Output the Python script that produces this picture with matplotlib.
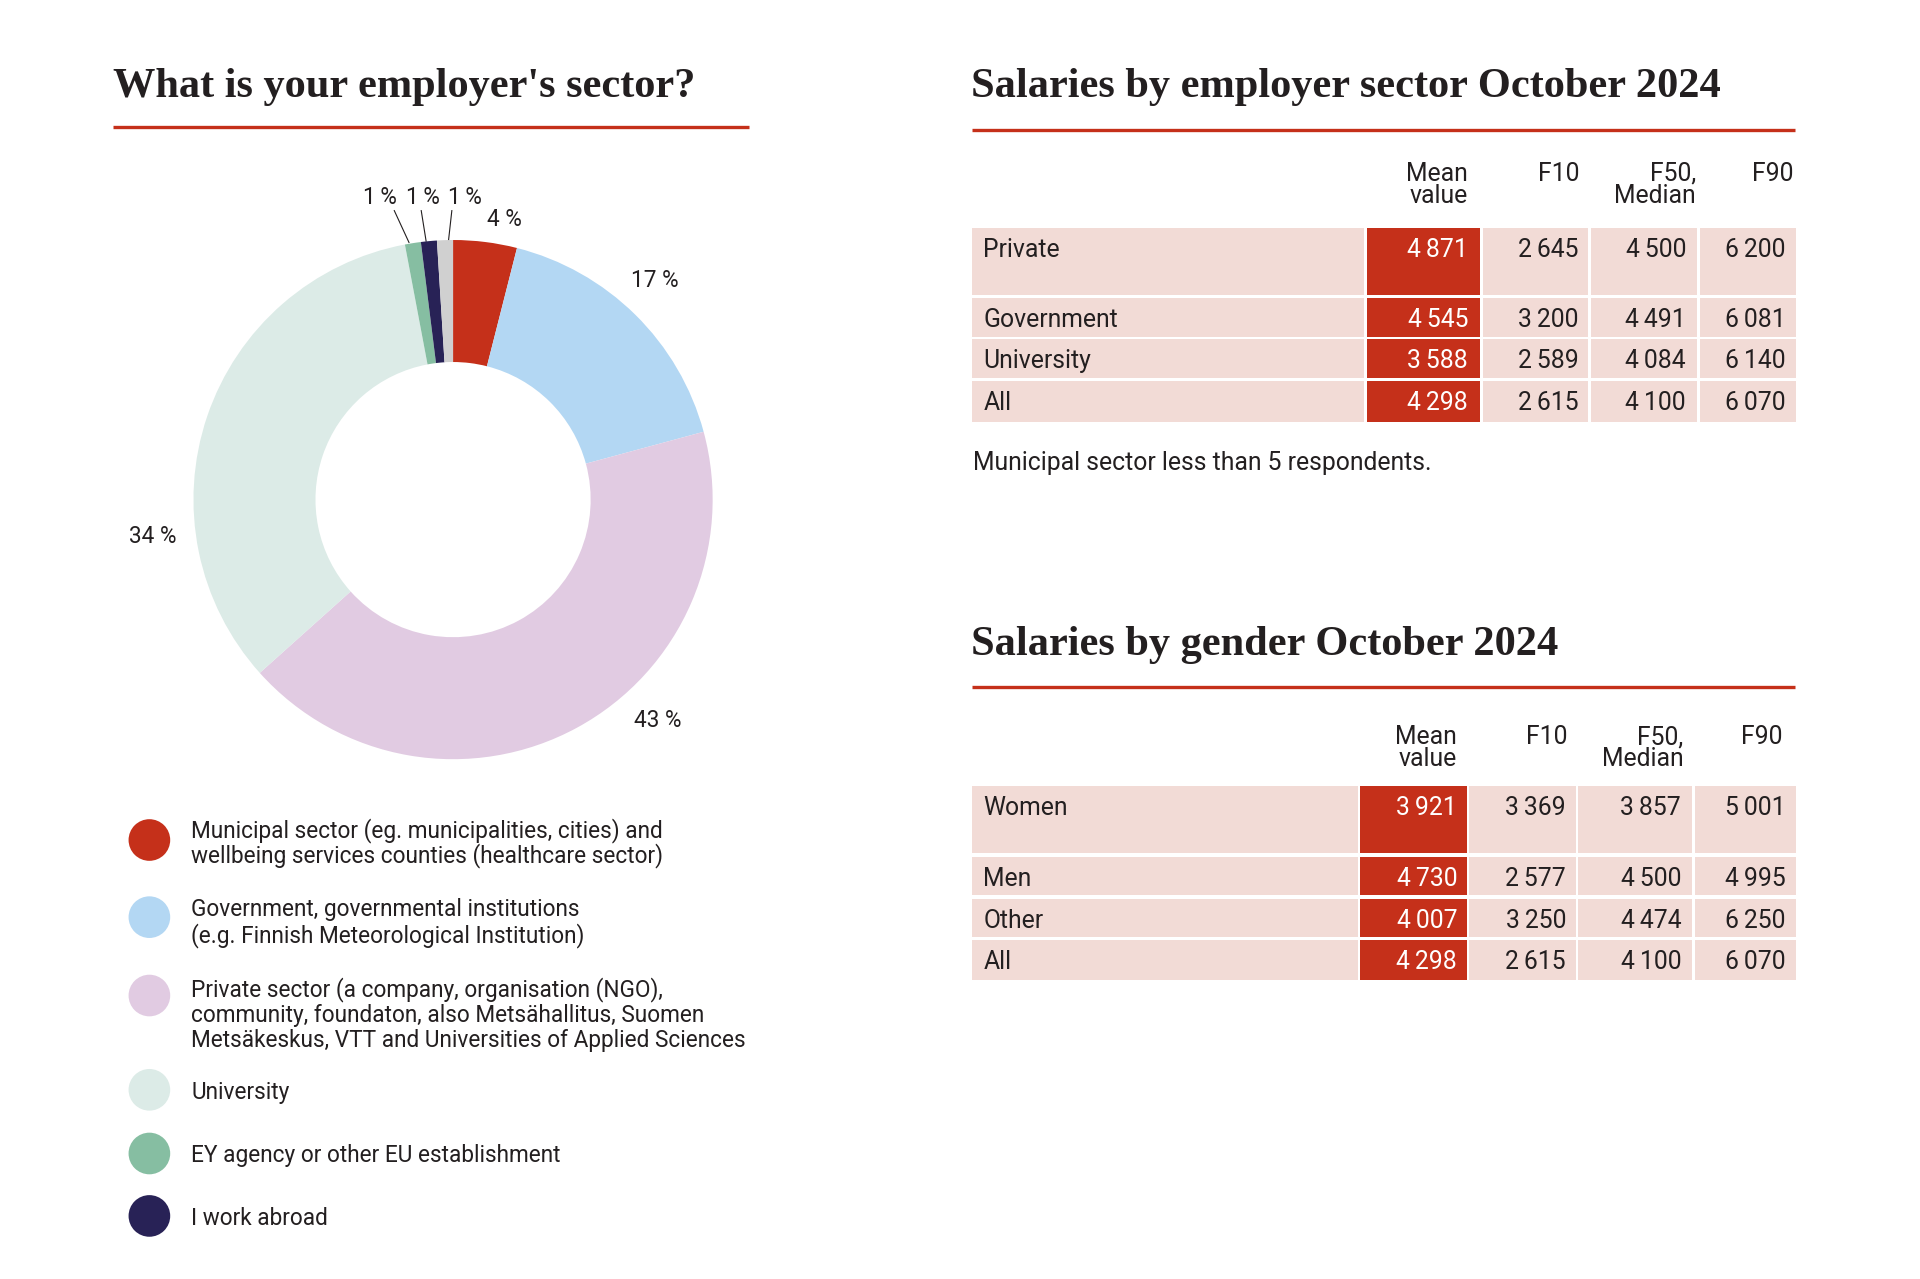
import matplotlib
matplotlib.use('Agg')
import matplotlib.pyplot as plt
from matplotlib.patches import Rectangle, Circle
from matplotlib import font_manager

# --- data -------------------------------------------------------------
sector_names = ['Municipal sector (eg. municipalities, cities) and\nwellbeing services counties (healthcare sector)',
                'Government, governmental institutions\n(e.g. Finnish Meteorological Institution)',
                'Private sector (a company, organisation (NGO),\ncommunity, foundaton, also Metsähallitus, Suomen\nMetsäkeskus, VTT and Universities of Applied Sciences',
                'University',
                'EY agency or other EU establishment',
                'I work abroad',
                'Other']
sector_share = [4, 17, 43, 34, 1, 1, 1]
sector_colors = ['#c5301a', '#b3d7f3', '#e1cbe2', '#dcebe7', '#86bea2', '#282256', '#d0d0d0']

columns = ['Mean\nvalue', 'F10', 'F50,\nMedian', 'F90']

sector_rows = ['Private', 'Government', 'University', 'All']
sector_mean = [4871, 4545, 3588, 4298]
sector_f10 = [2645, 3200, 2589, 2615]
sector_f50 = [4500, 4491, 4084, 4100]
sector_f90 = [6200, 6081, 6140, 6070]

gender_rows = ['Women', 'Men', 'Other', 'All']
gender_mean = [3921, 4730, 4007, 4298]
gender_f10 = [3369, 2577, 3250, 2615]
gender_f50 = [3857, 4500, 4474, 4100]
gender_f90 = [5001, 4995, 6250, 6070]

RED = '#c5301a'
PINK = '#f2dbd6'
INK = '#231f20'

# --- fonts ------------------------------------------------------------
installed = {f.name for f in font_manager.fontManager.ttflist}
body_font = 'Liberation Sans Narrow' if 'Liberation Sans Narrow' in installed else 'Roboto'
title_font = 'Liberation Serif'
BODY = [body_font, 'DejaVu Sans']

# layout units: 1568 x 1044.5, scaled up to 1920 x 1279 pixels
LW, LH = 1568, 1044.5
S = 1920 / LW

fig = plt.figure(figsize=(19.2, 12.79), dpi=100)
ax = fig.add_axes([0, 0, 1, 1])
ax.set_xlim(0, LW)
ax.set_ylim(LH, 0)
ax.axis('off')
renderer = fig.canvas.get_renderer()


def fit_size(s, width, **kw):
    t = ax.text(0, 0, s, fontsize=20, **kw)
    w = t.get_window_extent(renderer=renderer).width / S
    t.remove()
    return 20 * width / w


title_size = fit_size('Salaries by employer sector October 2024', 613, family=title_font, weight='bold')
legend_size = fit_size('Metsäkeskus, VTT and Universities of Applied Sciences', 452, family=BODY)
table_size = fit_size('Municipal sector less than 5 respondents.', 373, family=BODY)
DY = 2  # baseline nudge


def fmt(v):
    return f'{v:,}'.replace(',', '\u2009')


# --- titles -----------------------------------------------------------
titles = [("What is your employer's sector?", 92, 68, 92, 612, 104),
          ('Salaries by employer sector October 2024', 793, 68, 794, 1466, 106),
          ('Salaries by gender October 2024', 793, 524, 794, 1466, 561)]
for txt, x, y, x0, x1, yl in titles:
    ax.text(x, y + 3, txt, family=title_font, weight='bold', fontsize=title_size,
            color=INK, va='center', ha='left')
    ax.plot([x0, x1], [yl, yl], color=RED, lw=2.4, solid_capstyle='butt')

# --- donut ------------------------------------------------------------
cx, cy, r = 370, 408, 212
pax = fig.add_axes([(cx - r) / LW, 1 - (cy + r) / LH, 2 * r / LW, 2 * r / LH])
pax.pie(sector_share, colors=sector_colors, startangle=90, counterclock=False,
        radius=1, wedgeprops=dict(width=0.47, linewidth=0))
pax.set_xlim(-1, 1)
pax.set_ylim(-1, 1)
pax.set_aspect('equal')
pax.axis('off')

pct_labels = [f'{v}\u2009%' if v == 1 else f'{v} %' for v in sector_share]
label_pos = [(412, 177), (535, 227), (537, 586), (125, 436), (310, 159), (345, 159), (380, 159)]
for s, (x, y) in zip(pct_labels, label_pos):
    ax.text(x, y + DY, s, family=BODY, fontsize=legend_size, color=INK,
            ha='center', va='center')
leaders = [((322, 172), (334, 198)), ((344, 172), (348, 197)), ((369, 172), (366, 199))]
for (x0, y0), (x1, y1) in leaders:
    ax.plot([x0, x1], [y0, y1], color=INK, lw=0.8)

# --- legend -----------------------------------------------------------
legend_y = [676, 741, 806, 890, 942, 993]
circle_y = [686, 749, 813, 890, 942, 993]
for name, col, ty, cyy in zip(sector_names[:6], sector_colors[:6], legend_y, circle_y):
    ax.add_patch(Circle((122, cyy), 17, color=col, lw=0))
    for i, line in enumerate(name.split('\n')):
        ax.text(156, ty + i * 21 + DY, line, family=BODY, fontsize=legend_size,
                color=INK, ha='left', va='center')


# --- tables -----------------------------------------------------------
def draw_table(rows, cols, top_rows, row_h, col_edges, head_y, head_right, num_right):
    for j, c in enumerate(columns):
        for i, line in enumerate(c.split('\n')):
            ax.text(head_right[j], head_y + i * 18 + DY, line, family=BODY,
                    fontsize=table_size, color=INK, ha='right', va='center')
    for k, name in enumerate(rows):
        y0 = top_rows[k]
        h = row_h[k]
        for j, (x0, x1) in enumerate(col_edges):
            fc = RED if j == 1 else PINK
            ax.add_patch(Rectangle((x0, y0), x1 - x0, h, facecolor=fc, edgecolor='none'))
        ax.text(col_edges[0][0] + 9, y0 + 16 + DY, name, family=BODY,
                fontsize=table_size, color=INK, ha='left', va='center')
        for j, vals in enumerate(cols):
            ax.text(num_right[j], y0 + 16 + DY, fmt(vals[k]), family=BODY,
                    fontsize=table_size, color='white' if j == 0 else INK,
                    ha='right', va='center')


draw_table(sector_rows, [sector_mean, sector_f10, sector_f50, sector_f90],
           [186, 243, 277, 311], [55, 32, 32, 34],
           [(794, 1114), (1116, 1209), (1211, 1297), (1299, 1386), (1388, 1467)],
           140, [1199, 1290, 1385, 1465], [1199, 1289, 1377, 1458])
ax.text(795, 376 + DY, 'Municipal sector less than 5 respondents.', family=BODY,
        fontsize=table_size, color=INK, ha='left', va='center')

draw_table(gender_rows, [gender_mean, gender_f10, gender_f50, gender_f90],
           [642, 700, 734, 768], [55, 31, 31, 32],
           [(794, 1109), (1111, 1198), (1200, 1287), (1289, 1382), (1384, 1467)],
           600, [1190, 1280, 1375, 1456], [1190, 1279, 1373, 1458])

fig.savefig('out.png', dpi=100, facecolor='white')
